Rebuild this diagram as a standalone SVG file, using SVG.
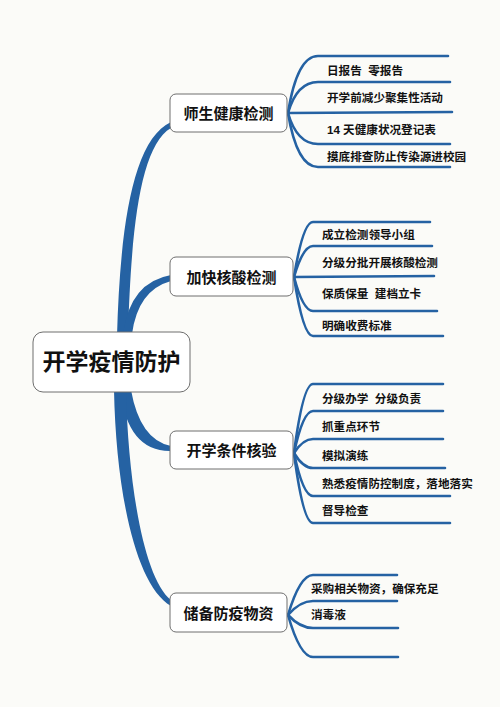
<svg xmlns="http://www.w3.org/2000/svg" width="500" height="707" viewBox="0 0 500 707">
<style>
.bg{fill:#fbfbf8}
.trunk{fill:#2562a3}
.leaf{fill:none;stroke:#2562a3;stroke-width:2.6;stroke-linecap:round}
.box{fill:#ffffff;stroke:#6e6e6e;stroke-width:1}
text{font-family:"Liberation Sans","Noto Sans CJK SC",sans-serif;font-weight:bold;fill:#111;dominant-baseline:central;white-space:pre}
.root{font-size:23px}
.main{font-size:15px}
.item{font-size:11.6px}
</style>
<rect class="bg" x="0" y="0" width="500" height="707"/>
<g id="connectors">
<path class="trunk" d="M117 336 C120 230 132 140 171 122 L171 128 C140 146 131 230 128 336 Z"/>
<path class="trunk" d="M123 334 Q130 282 171 275 L171 281 Q138 290 132 334 Z"/>
<path class="trunk" d="M120 390 Q128 452 171 451 L171 446 Q140 440 131 390 Z"/>
<path class="trunk" d="M114 390 C116 490 135 585 171 606 L171 600 C143 578 128 480 126 390 Z"/>
<path class="leaf" d="M288 113 Q297 56 318 56 L448 56"/>
<path class="leaf" d="M288 113 Q297 82 318 82 L450 82"/>
<path class="leaf" d="M288 113 L452 112"/>
<path class="leaf" d="M288 113 Q297 144 318 144 L450 144"/>
<path class="leaf" d="M288 113 Q297 167 318 167 L450 167"/>
<path class="leaf" d="M294 277 Q303 222 313 222 L430 222"/>
<path class="leaf" d="M294 277 Q303 246 313 246 L432 246"/>
<path class="leaf" d="M294 277 L434 276"/>
<path class="leaf" d="M294 277 Q303 311 313 311 L437 311"/>
<path class="leaf" d="M294 277 Q303 336 313 336 L443 336"/>
<path class="leaf" d="M294 453 Q303 384 313 384 L443 384"/>
<path class="leaf" d="M294 453 Q303 411 313 411 L443 411"/>
<path class="leaf" d="M294 453 Q303 439 313 439 L443 439"/>
<path class="leaf" d="M294 453 Q303 468 313 468 L445 468"/>
<path class="leaf" d="M294 453 Q303 496 313 496 L450 496"/>
<path class="leaf" d="M294 453 Q303 523 313 523 L450 523"/>
<path class="leaf" d="M288 615 Q300 575 313 575 L397 575"/>
<path class="leaf" d="M288 615 Q300 601 313 601 L397 601"/>
<path class="leaf" d="M288 615 Q300 628 313 628 L398 628"/>
<path class="leaf" d="M288 615 Q300 657 313 657 L398 657"/>
</g>
<g id="root">
<rect class="box" x="33" y="332" width="157" height="60" rx="10"/>
<text class="root" x="111.5" y="362" text-anchor="middle">开学疫情防护</text>
</g>
<g id="node1">
<rect class="box" x="170" y="94" width="117" height="38" rx="6"/>
<text class="main" x="228.5" y="113" text-anchor="middle">师生健康检测</text>
<text class="item" x="327" y="70" xml:space="preserve">日报告  零报告</text>
<text class="item" x="327" y="97">开学前减少聚集性活动</text>
<text class="item" x="327" y="129">14 天健康状况登记表</text>
<text class="item" x="327" y="156">摸底排查防止传染源进校园</text>
</g>
<g id="node2">
<rect class="box" x="170" y="257" width="123" height="39" rx="6"/>
<text class="main" x="231.5" y="277" text-anchor="middle">加快核酸检测</text>
<text class="item" x="322" y="234">成立检测领导小组</text>
<text class="item" x="322" y="262">分级分批开展核酸检测</text>
<text class="item" x="322" y="293" xml:space="preserve">保质保量  建档立卡</text>
<text class="item" x="322" y="325">明确收费标准</text>
</g>
<g id="node3">
<rect class="box" x="170" y="431" width="123" height="38" rx="6"/>
<text class="main" x="231.5" y="450" text-anchor="middle">开学条件核验</text>
<text class="item" x="322" y="398" xml:space="preserve">分级办学  分级负责</text>
<text class="item" x="322" y="426">抓重点环节</text>
<text class="item" x="322" y="455">模拟演练</text>
<text class="item" x="322" y="483">熟悉疫情防控制度，落地落实</text>
<text class="item" x="322" y="510">督导检查</text>
</g>
<g id="node4">
<rect class="box" x="170" y="593" width="117" height="39" rx="6"/>
<text class="main" x="228.5" y="613" text-anchor="middle">储备防疫物资</text>
<text class="item" x="311" y="588">采购相关物资，确保充足</text>
<text class="item" x="311" y="614">消毒液</text>
</g>
</svg>
